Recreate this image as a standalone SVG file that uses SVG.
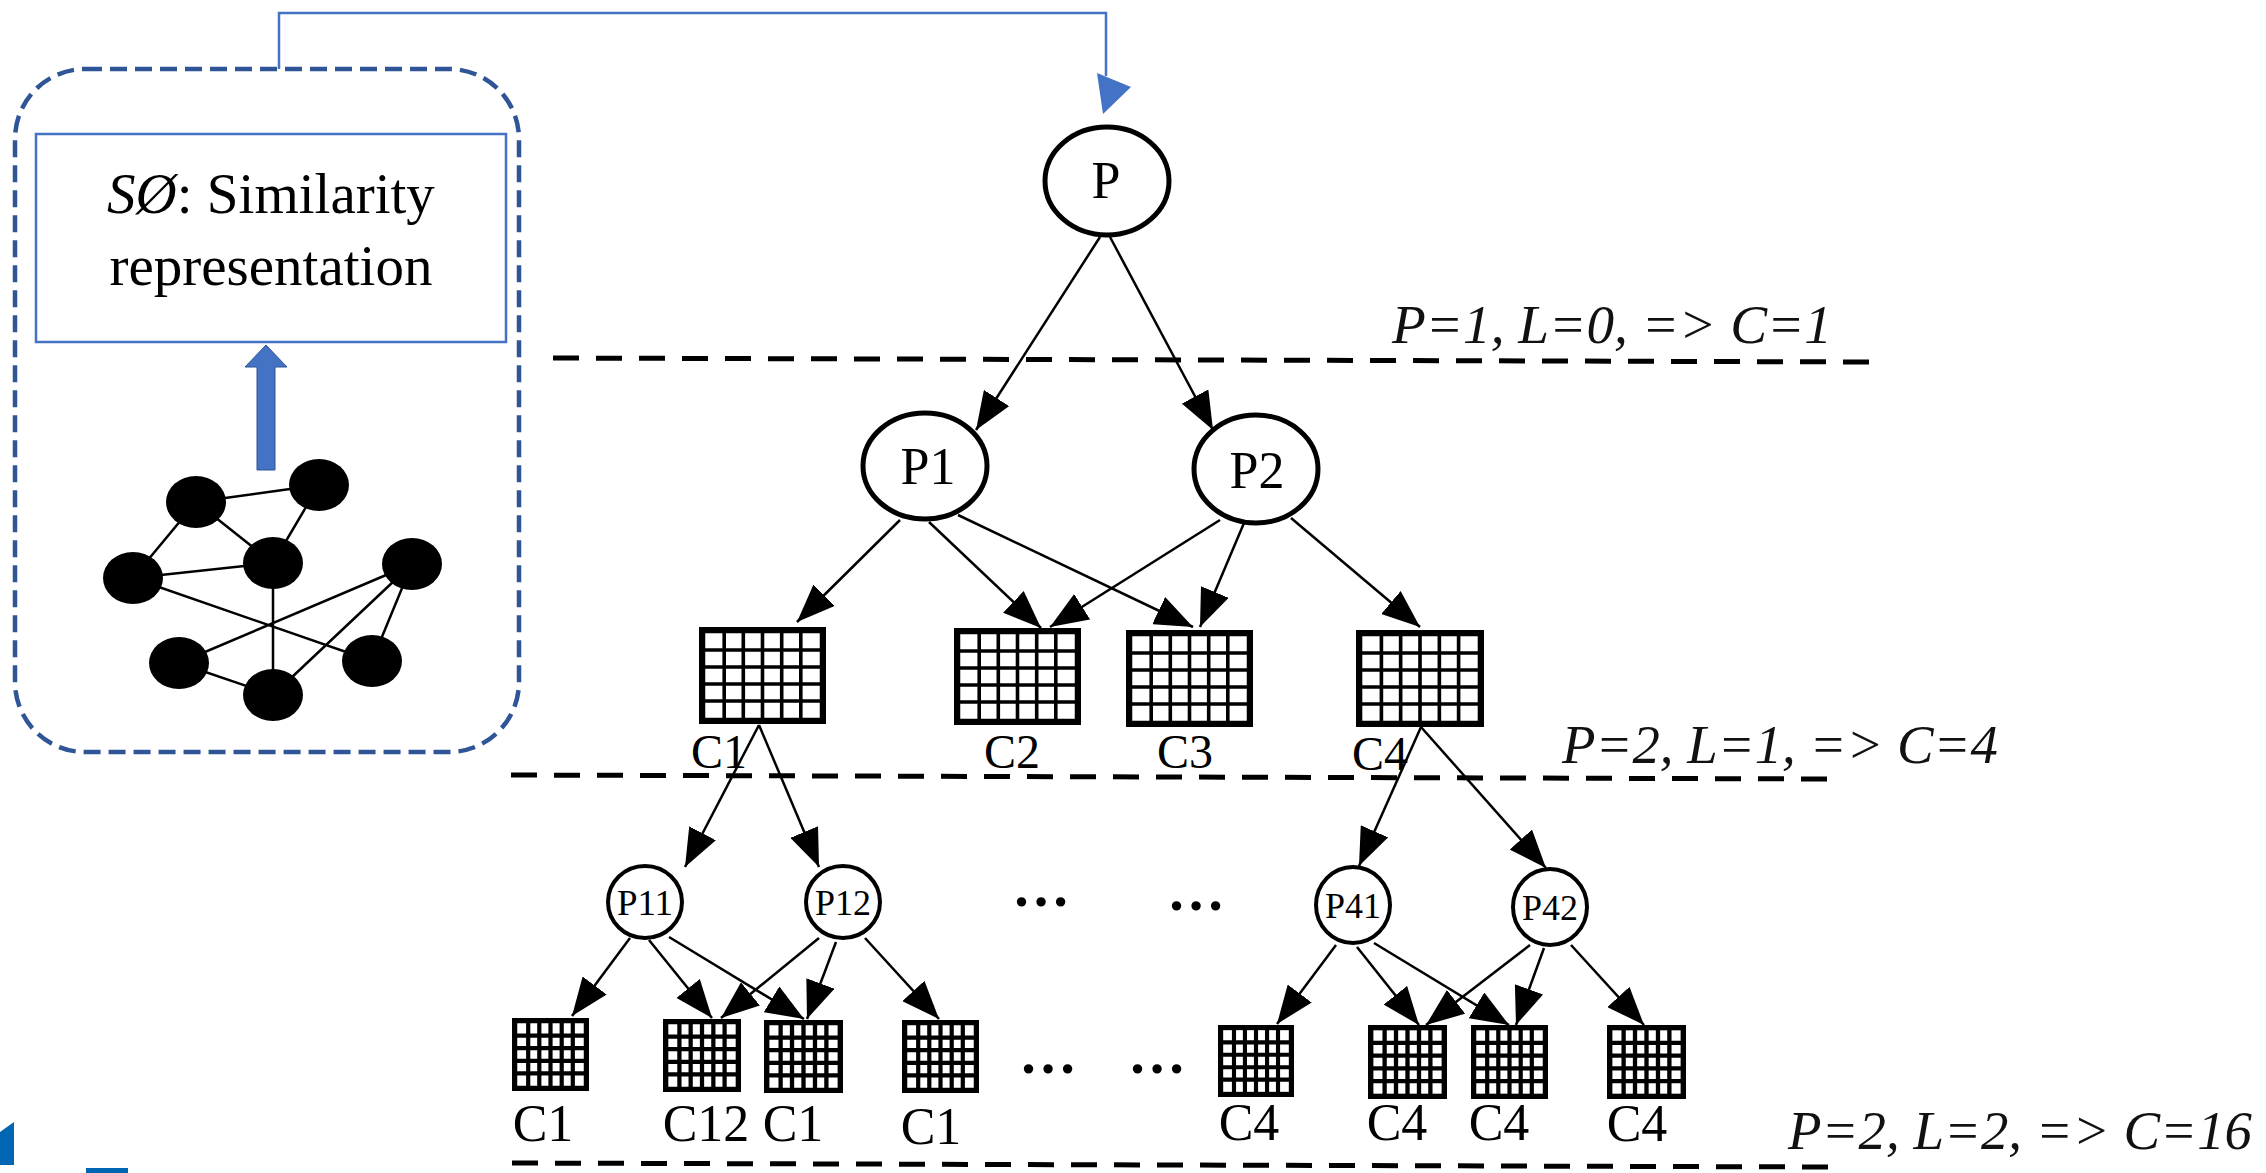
<svg xmlns="http://www.w3.org/2000/svg" xmlns:xlink="http://www.w3.org/1999/xlink" width="2266" height="1173" viewBox="0 0 2266 1173">
<style>
.t{font-family:"Liberation Serif","Times New Roman",serif;fill:#000}
.lvl{font-family:"Liberation Serif","Times New Roman",serif;font-style:italic;font-size:55px;fill:#111}
.sep{stroke:#000;stroke-width:5;stroke-dasharray:26 17;fill:none}
.pc{fill:#fff;stroke:#000;stroke-width:5}
.pc2{fill:#fff;stroke:#000;stroke-width:4}
.edge{stroke:#000;stroke-width:2.5;fill:none;marker-end:url(#ah)}
.g{stroke:#000;stroke-width:2.5}
.gn{fill:#000}
</style>
<defs>
<marker id="ah" markerUnits="userSpaceOnUse" markerWidth="38" markerHeight="30" refX="38" refY="15" orient="auto">
<path d="M0,0 L38,15 L0,30 z" fill="#000"/>
</marker>
<symbol id="gridL" viewBox="0 0 127 97" preserveAspectRatio="none">
<rect x="3" y="3" width="121" height="91" fill="#fff" stroke="#000" stroke-width="6.5"/>
<path d="M25.2,3V94M44.3,3V94M63.5,3V94M82.7,3V94M101.8,3V94M3,23H124M3,40H124M3,57H124M3,74H124" stroke="#000" stroke-width="3.6"/>
</symbol>
<symbol id="gridS" viewBox="0 0 77 73" preserveAspectRatio="none">
<rect x="2.5" y="2.5" width="72" height="68" fill="#fff" stroke="#000" stroke-width="5.5"/>
<path d="M16.2,2.5V70.5M27.3,2.5V70.5M38.5,2.5V70.5M49.7,2.5V70.5M60.8,2.5V70.5M2.5,17.6H74.5M2.5,30.2H74.5M2.5,42.8H74.5M2.5,55.4H74.5" stroke="#000" stroke-width="4.2"/>
</symbol>
</defs>
<rect width="2266" height="1173" fill="#fff"/>

<!-- stray logo fragments -->
<path d="M0,1132 L14,1122 L14,1165 L0,1165 z" fill="#0066b3"/>
<rect x="86" y="1168" width="42" height="5" fill="#0066b3"/>

<!-- left panel -->
<g id="panel">
<path d="M85,69 H449 A70,70 0 0 1 519,139 V682 A70,70 0 0 1 449,752 H85 A70,70 0 0 1 15,682 V139 A70,70 0 0 1 85,69 Z" fill="none" stroke="#2f5597" stroke-width="4.5" stroke-dasharray="17 8"/>
</g>
<g id="sim-box">
<rect x="36" y="134" width="470" height="208" fill="#fff" stroke="#4472c4" stroke-width="2.5"/>
<text class="t" x="271" y="213" font-size="57" text-anchor="middle"><tspan font-style="italic">SØ</tspan>: Similarity</text>
<text class="t" x="271" y="285" font-size="57" text-anchor="middle">representation</text>
</g>
<g id="up-arrow">
<path d="M266,345 L287,367 L275,367 L275,470 L257,470 L257,367 L245,367 Z" fill="#4472c4" stroke="#2f5597" stroke-width="1"/>
</g>
<g id="graph">
<path class="g" d="M196,502 L319,485 M196,502 L133,578 M196,502 L273,563 M319,485 L273,563 M133,578 L273,563 M133,578 L372,661 M273,563 L273,695 M412,564 L179,663 M412,564 L273,695 M412,564 L372,661 M179,663 L273,695"/>
<ellipse class="gn" cx="196" cy="502" rx="30" ry="26"/>
<ellipse class="gn" cx="319" cy="485" rx="30" ry="26"/>
<ellipse class="gn" cx="133" cy="578" rx="30" ry="26"/>
<ellipse class="gn" cx="273" cy="563" rx="30" ry="26"/>
<ellipse class="gn" cx="412" cy="564" rx="30" ry="26"/>
<ellipse class="gn" cx="179" cy="663" rx="30" ry="26"/>
<ellipse class="gn" cx="273" cy="695" rx="30" ry="26"/>
<ellipse class="gn" cx="372" cy="661" rx="30" ry="26"/>
</g>

<!-- separators -->
<g id="separators">
<line class="sep" x1="553" y1="358" x2="1874" y2="362"/>
<line class="sep" x1="511" y1="775" x2="1832" y2="779"/>
<line class="sep" x1="512" y1="1163" x2="1832" y2="1167"/>
</g>
<g id="level-labels">
<text class="lvl" x="1392" y="343" textLength="440" lengthAdjust="spacingAndGlyphs">P=1, L=0, =&gt; C=1</text>
<text class="lvl" x="1562" y="763" textLength="436" lengthAdjust="spacingAndGlyphs">P=2, L=1, =&gt; C=4</text>
<text class="lvl" x="1788" y="1149" textLength="464" lengthAdjust="spacingAndGlyphs">P=2, L=2, =&gt; C=16</text>
</g>

<!-- connectors -->
<g id="connectors">
<path d="M279,69 V13 H1106 V76" fill="none" stroke="#4472c4" stroke-width="2.5"/>
<path d="M1097,73 L1131,87 L1103,114 Z" fill="#4472c4"/>
<line class="edge" x1="1100" y1="237" x2="976" y2="430"/>
<line class="edge" x1="1110" y1="237" x2="1213" y2="430"/>
<line class="edge" x1="900" y1="520" x2="797" y2="622"/>
<line class="edge" x1="929" y1="522" x2="1041" y2="628"/>
<line class="edge" x1="958" y1="515" x2="1193" y2="627"/>
<line class="edge" x1="1220" y1="520" x2="1050" y2="627"/>
<line class="edge" x1="1244" y1="523" x2="1200" y2="627"/>
<line class="edge" x1="1291" y1="518" x2="1420" y2="627"/>
<line class="edge" x1="759" y1="725" x2="685" y2="867"/>
<line class="edge" x1="759" y1="725" x2="819" y2="867"/>
<line class="edge" x1="1421" y1="727" x2="1359" y2="866"/>
<line class="edge" x1="1421" y1="727" x2="1546" y2="868"/>
<line class="edge" x1="630" y1="938" x2="572" y2="1016"/>
<line class="edge" x1="649" y1="940" x2="712" y2="1018"/>
<line class="edge" x1="669" y1="937" x2="804" y2="1019"/>
<line class="edge" x1="819" y1="938" x2="721" y2="1018"/>
<line class="edge" x1="836" y1="942" x2="807" y2="1019"/>
<line class="edge" x1="865" y1="938" x2="939" y2="1019"/>
<line class="edge" x1="1336" y1="945" x2="1277" y2="1024"/>
<line class="edge" x1="1357" y1="947" x2="1419" y2="1025"/>
<line class="edge" x1="1374" y1="943" x2="1509" y2="1025"/>
<line class="edge" x1="1530" y1="945" x2="1426" y2="1025"/>
<line class="edge" x1="1544" y1="948" x2="1516" y2="1025"/>
<line class="edge" x1="1571" y1="945" x2="1644" y2="1025"/>
</g>

<!-- level 0/1 process nodes -->
<g id="P"><ellipse class="pc" cx="1107" cy="181" rx="62" ry="54"/><text class="t" x="1106" y="198" font-size="52" text-anchor="middle">P</text></g>
<g id="P1"><ellipse class="pc" cx="925" cy="466" rx="62" ry="53"/><text class="t" x="928" y="484" font-size="52" text-anchor="middle">P1</text></g>
<g id="P2"><ellipse class="pc" cx="1256" cy="469" rx="62" ry="54"/><text class="t" x="1257" y="488" font-size="52" text-anchor="middle">P2</text></g>

<!-- level 1 clusters -->
<g id="C1"><use href="#gridL" x="699" y="627" width="127" height="97"/><text class="t" x="719" y="768" font-size="48" text-anchor="middle">C1</text></g>
<g id="C2"><use href="#gridL" x="954" y="628" width="127" height="97"/><text class="t" x="1012" y="768" font-size="48" text-anchor="middle">C2</text></g>
<g id="C3"><use href="#gridL" x="1126" y="630" width="127" height="97"/><text class="t" x="1185" y="768" font-size="48" text-anchor="middle">C3</text></g>
<g id="C4"><use href="#gridL" x="1356" y="630" width="128" height="97"/><text class="t" x="1380" y="770" font-size="48" text-anchor="middle">C4</text></g>

<!-- level 2 process nodes -->
<g id="P11"><ellipse class="pc2" cx="645" cy="902" rx="37" ry="36"/><text class="t" x="645" y="915" font-size="36" text-anchor="middle" textLength="56" lengthAdjust="spacingAndGlyphs">P11</text></g>
<g id="P12"><ellipse class="pc2" cx="843" cy="902" rx="37" ry="36"/><text class="t" x="843" y="915" font-size="36" text-anchor="middle" textLength="56" lengthAdjust="spacingAndGlyphs">P12</text></g>
<g id="P41"><ellipse class="pc2" cx="1353" cy="905" rx="37" ry="38"/><text class="t" x="1353" y="918" font-size="36" text-anchor="middle" textLength="56" lengthAdjust="spacingAndGlyphs">P41</text></g>
<g id="P42"><ellipse class="pc2" cx="1550" cy="907" rx="37" ry="38"/><text class="t" x="1550" y="920" font-size="36" text-anchor="middle" textLength="56" lengthAdjust="spacingAndGlyphs">P42</text></g>
<g id="dots-top">
<text class="t" x="1041" y="906" font-size="58" font-weight="bold" text-anchor="middle">…</text>
<text class="t" x="1196" y="910" font-size="58" font-weight="bold" text-anchor="middle">…</text>
</g>

<!-- level 2 clusters -->
<g id="L2-1"><use href="#gridS" x="512" y="1018" width="77" height="73"/><text class="t" x="543" y="1141" font-size="52" text-anchor="middle">C1</text></g>
<g id="L2-2"><use href="#gridS" x="663" y="1019" width="78" height="73"/><text class="t" x="706" y="1141" font-size="52" text-anchor="middle">C12</text></g>
<g id="L2-3"><use href="#gridS" x="764" y="1020" width="79" height="73"/><text class="t" x="793" y="1141" font-size="52" text-anchor="middle">C1</text></g>
<g id="L2-4"><use href="#gridS" x="902" y="1020" width="77" height="73"/><text class="t" x="931" y="1144" font-size="52" text-anchor="middle">C1</text></g>
<g id="dots-bottom">
<text class="t" x="1048" y="1073" font-size="58" font-weight="bold" text-anchor="middle">…</text>
<text class="t" x="1157" y="1073" font-size="58" font-weight="bold" text-anchor="middle">…</text>
</g>
<g id="L2-5"><use href="#gridS" x="1218" y="1025" width="76" height="72"/><text class="t" x="1249" y="1140" font-size="52" text-anchor="middle">C4</text></g>
<g id="L2-6"><use href="#gridS" x="1368" y="1025" width="79" height="74"/><text class="t" x="1397" y="1140" font-size="52" text-anchor="middle">C4</text></g>
<g id="L2-7"><use href="#gridS" x="1471" y="1025" width="77" height="74"/><text class="t" x="1499" y="1140" font-size="52" text-anchor="middle">C4</text></g>
<g id="L2-8"><use href="#gridS" x="1607" y="1025" width="79" height="74"/><text class="t" x="1637" y="1141" font-size="52" text-anchor="middle">C4</text></g>
</svg>
